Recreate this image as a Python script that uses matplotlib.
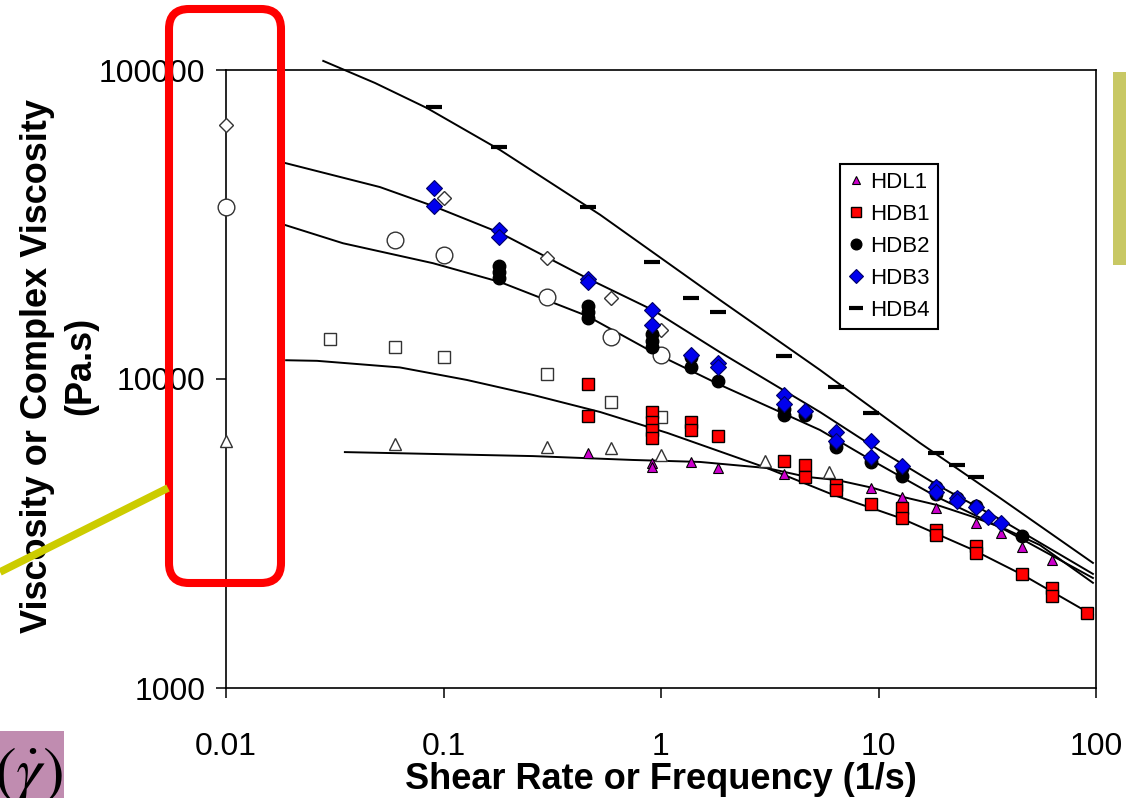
#!/usr/bin/env python3
import matplotlib
matplotlib.use("Agg")
import matplotlib.pyplot as plt
from matplotlib.patches import FancyBboxPatch, Rectangle
from matplotlib.ticker import FixedLocator, FixedFormatter, NullLocator

plt.rcParams['font.family'] = ['Liberation Sans', 'DejaVu Sans']
plt.rcParams['mathtext.fontset'] = 'stix'

# ticks
x_ticks = [0.01, 0.1, 1, 10, 100]
x_tick_labels = ["0.01", "0.1", "1", "10", "100"]
y_ticks = [1000, 10000, 100000]
y_tick_labels = ["1000", "10000", "100000"]

# oscillatory data (complex viscosity), filled markers
hdl1_x = [0.46, 0.91, 0.91, 1.37, 1.83, 3.66, 9.2, 12.8, 18.3, 28, 36.6, 45.7, 63]
hdl1_y = [5760, 5350, 5190, 5390, 5150, 4930, 4440, 4150, 3830, 3420, 3180, 2860, 2590]

hdb1_x = [0.46, 0.46, 0.91, 0.91, 0.91, 0.91, 1.37, 1.37, 1.83, 3.66, 4.6, 4.6,
          6.4, 6.4, 9.2, 12.8, 12.8, 18.3, 18.3, 28, 28, 45.7, 63, 63, 91]
hdb1_y = [9640, 7590, 7820, 7260, 6840, 6440, 7260, 6840, 6540, 5430, 5270, 4820,
          4540, 4370, 3940, 3830, 3550, 3250, 3130, 2880, 2730, 2340, 2110, 1990, 1750]

hdb2_x = [0.18, 0.18, 0.18, 0.46, 0.46, 0.46, 0.91, 0.91, 0.91, 1.37, 1.37, 1.83,
          3.66, 3.66, 4.6, 6.4, 6.4, 9.2, 9.2, 12.8, 12.8, 18.3, 18.3, 23, 28, 45.7]
hdb2_y = [23200, 22200, 21200, 17200, 16500, 15700, 14000, 13300, 12700, 11800, 10900, 9860,
          8000, 7640, 7640, 6210, 6020, 5550, 5390, 5150, 4860, 4470, 4240, 4120, 3880, 3100]

hdb3_x = [0.09, 0.09, 0.18, 0.18, 0.46, 0.46, 0.91, 0.91, 1.37, 1.83, 1.83, 3.66, 3.66,
          4.6, 6.4, 6.4, 9.2, 9.2, 12.8, 18.3, 18.3, 23, 23, 28, 32, 36.6]
hdb3_y = [41500, 36300, 30400, 28800, 21100, 20600, 16700, 15000, 12000, 11300, 10900, 8870, 8300,
          7870, 6730, 6300, 6300, 5600, 5230, 4470, 4300, 4120, 4030, 3850, 3580, 3420]

hdb4_x = [0.09, 0.18, 0.46, 0.91, 1.37, 1.83, 3.66, 6.4, 9.2, 18.3, 23, 28]
hdb4_y = [75900, 56300, 36000, 23900, 18300, 16500, 11900, 9420, 7760, 5760, 5270, 4820]

# steady shear data, open markers (no legend entry)
shear_l_x = [0.01, 0.06, 0.3, 0.59, 1.0, 3.0, 5.9]
shear_l_y = [6300, 6160, 6020, 5980, 5680, 5430, 5000]
shear_1_x = [0.03, 0.06, 0.1, 0.3, 0.59, 1.0]
shear_1_y = [13500, 12700, 11800, 10400, 8430, 7530]
shear_2_x = [0.01, 0.06, 0.1, 0.3, 0.59, 1.0]
shear_2_y = [36000, 28200, 25200, 18400, 13700, 12000]
shear_3_x = [0.01, 0.1, 0.3, 0.59, 1.0]
shear_3_y = [66400, 38500, 24600, 18300, 14400]

# model fit curves
fit4_x = [0.028, 0.0484, 0.084, 0.182, 0.525, 1.87, 5.38, 15.5, 36.2, 96.8]
fit4_y = [107000, 90800, 75300, 55100, 34000, 18000, 10700, 6210, 4120, 2540]
fit3_x = [0.0187, 0.051, 0.0895, 0.182, 0.457, 0.92, 1.87, 5.38, 9.25, 18.6, 36.6, 96.8]
fit3_y = [50000, 41800, 36300, 29700, 21200, 16700, 12200, 7820, 6110, 4540, 3500, 2340]
fit2_x = [0.0187, 0.0345, 0.0895, 0.182, 0.457, 0.92, 1.87, 5.38, 9.25, 18.6, 36.6, 96.8]
fit2_y = [31500, 27500, 23700, 20600, 16000, 12200, 9570, 6840, 5470, 4150, 3300, 2270]
fit1_x = [0.0189, 0.0262, 0.063, 0.128, 0.258, 0.525, 1.07, 3.07, 6.18, 12.6, 27.2, 46.2, 96.8]
fit1_y = [11500, 11450, 10900, 9930, 8880, 7820, 6690, 5150, 4220, 3550, 2800, 2320, 1720]
fitl_x = [0.0352, 0.0895, 0.258, 0.743, 1.51, 3.07, 4.69, 6.44, 9.44, 13.0, 18.6, 27.2,
          39.0, 55.3, 96.8]
fitl_y = [5800, 5720, 5630, 5470, 5390, 5150, 4820, 4710, 4440, 4150, 3910, 3580,
          3250, 2900, 2190]


def draw_chart():
    """Viscosity vs shear rate / frequency, log-log"""

    W, H = 1126, 798
    fig = plt.figure(figsize=(W / 100, H / 100), dpi=100)
    ax = fig.add_axes([226 / W, (H - 688) / H, 870 / W, 618 / H])
    ax.set_xscale("log")
    ax.set_yscale("log")
    ax.set_xlim(0.01, 100)
    ax.set_ylim(1000, 100000)

    # fit lines first, markers on top
    for fx, fy in [(fit4_x, fit4_y), (fit3_x, fit3_y), (fit2_x, fit2_y),
                   (fit1_x, fit1_y), (fitl_x, fitl_y)]:
        ax.plot(fx, fy, color="black", lw=1.4, clip_on=False, zorder=2,
                solid_joinstyle="round")

    open_kw = dict(ls="none", mfc="white", mec="#333333", mew=1.0, zorder=3,
                   clip_on=False)
    ax.plot(shear_l_x, shear_l_y, marker="^", ms=8, **open_kw)
    ax.plot(shear_1_x, shear_1_y, marker="s", ms=9, **open_kw)
    ax.plot(shear_2_x, shear_2_y, marker="o", ms=12, **open_kw)
    ax.plot(shear_3_x, shear_3_y, marker="D", ms=7, **open_kw)

    ax.plot(hdl1_x, hdl1_y, ls="none", marker="^", ms=7, mfc="#CC00CC",
            mec="black", mew=0.8, zorder=4, label="HDL1")
    ax.plot(hdb1_x, hdb1_y, ls="none", marker="s", ms=8, mfc="#FF0000",
            mec="black", mew=1.0, zorder=4, label="HDB1")
    ax.plot(hdb2_x, hdb2_y, ls="none", marker="o", ms=9, mfc="black",
            mec="black", zorder=4, label="HDB2")
    ax.plot(hdb3_x, hdb3_y, ls="none", marker="D", ms=8, mfc="#0000EE",
            mec="#000066", mew=0.8, zorder=5, label="HDB3")
    ax.plot(hdb4_x, hdb4_y, ls="none", marker="_", ms=12, mew=3,
            color="black", zorder=4, label="HDB4")

    ax.xaxis.set_major_locator(FixedLocator(x_ticks))
    ax.xaxis.set_major_formatter(FixedFormatter(x_tick_labels))
    ax.yaxis.set_major_locator(FixedLocator(y_ticks))
    ax.yaxis.set_major_formatter(FixedFormatter(y_tick_labels))
    ax.xaxis.set_minor_locator(NullLocator())
    ax.yaxis.set_minor_locator(NullLocator())
    ax.tick_params(direction="out", length=7, width=1.1, labelsize=23)
    ax.tick_params(axis="x", pad=25)
    ax.tick_params(axis="y", pad=8)
    for sp in ax.spines.values():
        sp.set_linewidth(1.2)

    ax.set_xlabel("Shear Rate or Frequency (1/s)", fontsize=26,
                  fontweight="bold", labelpad=0)
    ax.set_ylabel("Viscosity or Complex Viscosity\n(Pa.s)", fontsize=26,
                  fontweight="bold", linespacing=1.3)
    ax.yaxis.set_label_coords(-0.147, 0.521)

    leg = ax.legend(loc="upper left", bbox_to_anchor=(0.706, 0.848),
                    fontsize=16, fancybox=False, framealpha=1,
                    edgecolor="black", borderpad=0.35, labelspacing=0.5,
                    handlelength=0.7, handletextpad=0.3, borderaxespad=0,
                    markerscale=0.85)
    leg.get_frame().set_linewidth(1.5)

    # slide annotations on top, in pixel units
    ov = fig.add_axes([0, 0, 1, 1])
    ov.set_xlim(0, W)
    ov.set_ylim(H, 0)
    ov.axis("off")
    ov.plot([0, 168], [572, 488], color="#CCCC00", lw=5.5,
            solid_capstyle="butt")
    ov.add_patch(FancyBboxPatch((169, 9), 112, 574,
                                boxstyle="round,pad=0,rounding_size=20",
                                fill=False, edgecolor="#FF0000", lw=5.8))
    ov.add_patch(Rectangle((1113, 72), 20, 193, facecolor="#C8C864",
                           edgecolor="none"))
    ov.add_patch(Rectangle((0, 731), 64, 70, facecolor="#C08CB0",
                           edgecolor="none"))
    ov.text(63, 776, r"$(\dot{\gamma})$", fontsize=47, ha="right",
            va="center", color="black", clip_on=True)

    fig.savefig("out.png", dpi=100)


if __name__ == "__main__":
    draw_chart()
